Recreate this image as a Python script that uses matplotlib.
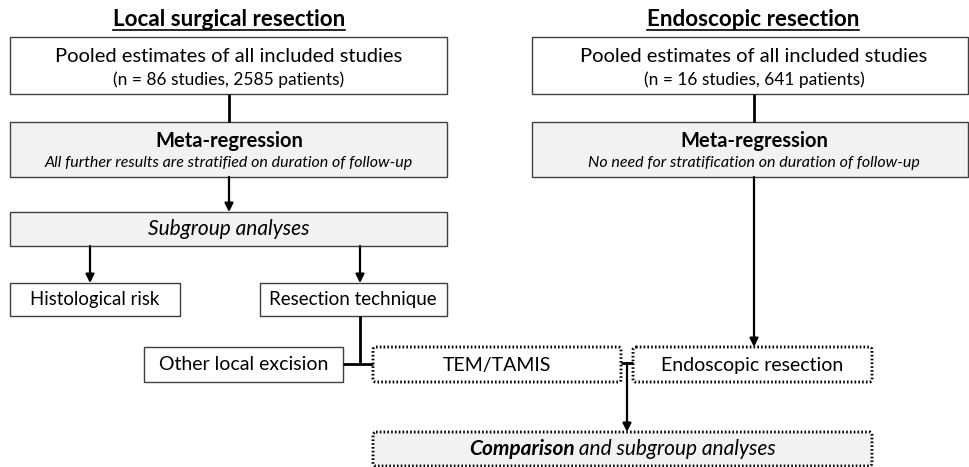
import matplotlib
matplotlib.use("Agg")
from matplotlib import pyplot as plt
from matplotlib.patches import Rectangle, FancyBboxPatch

plt.rcParams["font.family"] = ["Lato", "DejaVu Sans"]

W, H = 969, 467

# text of the flowchart
titles = ["Local surgical resection", "Endoscopic resection"]
pooled = ["Pooled estimates of all included studies",
          "Pooled estimates of all included studies"]
pooled_n = ["(n = 86 studies, 2585 patients)", "(n = 16 studies, 641 patients)"]
meta_head = "Meta-regression"
meta_sub = ["All further results are stratified on duration of follow-up",
            "No need for stratification on duration of follow-up"]
subgroup = "Subgroup analyses"
level3 = ["Histological risk", "Resection technique"]
level4 = ["Other local excision", "TEM/TAMIS", "Endoscopic resection"]
final_bold = "Comparison"
final_rest = " and subgroup analyses"

GRAY = "#f2f2f2"
EDGE = "#404040"

fig = plt.figure(figsize=(W / 100, H / 100), dpi=100)
ax = fig.add_axes([0, 0, 1, 1])
ax.set_xlim(0, W)
ax.set_ylim(H, 0)
ax.axis("off")


def box(x0, y0, x1, y1, fill="white", dotted=False):
    if dotted:
        p = FancyBboxPatch((x0, y0), x1 - x0, y1 - y0,
                           boxstyle="round,pad=0,rounding_size=3",
                           fc=fill, ec="black", lw=2.1, ls=(0, (0.55, 0.75)))
    else:
        p = Rectangle((x0, y0), x1 - x0, y1 - y0, fc=fill, ec=EDGE, lw=1.0)
    ax.add_patch(p)


def line(xs, ys):
    ax.plot(xs, ys, color="black", lw=2.0, solid_capstyle="butt")


def arrow(x, y0, y1):
    ax.annotate("", xy=(x, y1), xytext=(x, y0),
                arrowprops=dict(arrowstyle="-|>,head_length=0.5,head_width=0.25",
                                color="black", lw=1.6, shrinkA=0, shrinkB=0))


# titles with underline
title_x = [229, 753]
fig.canvas.draw()
renderer = fig.canvas.get_renderer()
for tx, t in zip(title_x, titles):
    txt = ax.text(tx, 20, t, ha="center", va="center", fontsize=16.2,
                  fontweight="bold")
    bb = txt.get_window_extent(renderer).transformed(ax.transData.inverted())
    ax.plot([bb.x0, bb.x1], [30, 30], color="black", lw=1.2)

# column boxes
cols = [(10, 447, 229), (532, 968, 754)]
for i, (x0, x1, cx) in enumerate(cols):
    box(x0, 37, x1, 94)
    ax.text(cx, 57, pooled[i], ha="center", va="center", fontsize=14.5)
    ax.text(cx, 80, pooled_n[i], ha="center", va="center", fontsize=12.5)
    line([cx, cx], [94, 122])
    box(x0, 122, x1, 177, fill=GRAY)
    ax.text(cx, 141, meta_head, ha="center", va="center", fontsize=14.5,
            fontweight="bold")
    ax.text(cx, 163, meta_sub[i], ha="center", va="center", fontsize=11.5,
            style="italic")

# left branch
arrow(229, 177, 212)
box(10, 212, 447, 246, fill=GRAY)
ax.text(229, 229, subgroup, ha="center", va="center", fontsize=15,
        style="italic")
arrow(90, 246, 283)
arrow(360, 246, 283)
box(10, 283, 180, 316)
ax.text(95, 300, level3[0], ha="center", va="center", fontsize=13.4)
box(260, 283, 447, 316)
ax.text(353, 300, level3[1], ha="center", va="center", fontsize=13.5)

line([360, 360], [316, 364])
line([343, 373], [364, 364])
box(144, 347, 343, 382)
ax.text(244, 365, level4[0], ha="center", va="center", fontsize=14)
box(373, 347, 621, 382, dotted=True)
ax.text(497, 365, level4[1], ha="center", va="center", fontsize=14)

# right branch
arrow(754, 177, 347)
box(633, 347, 872, 382, dotted=True)
ax.text(752, 365, level4[2], ha="center", va="center", fontsize=14)

# join to comparison
line([621, 633], [363, 363])
arrow(627, 363, 432)
box(373, 432, 872, 466, fill=GRAY, dotted=True)

t1 = ax.text(0, 449, final_bold, ha="left", va="center", fontsize=15,
             fontweight="bold", style="italic")
t2 = ax.text(0, 449, final_rest, ha="left", va="center", fontsize=15,
             style="italic")
inv = ax.transData.inverted()
w1 = t1.get_window_extent(renderer).transformed(inv).width
w2 = t2.get_window_extent(renderer).transformed(inv).width
start = 622.5 - (w1 + w2) / 2
t1.set_x(start)
t2.set_x(start + w1)

fig.savefig("out.png", dpi=100)
